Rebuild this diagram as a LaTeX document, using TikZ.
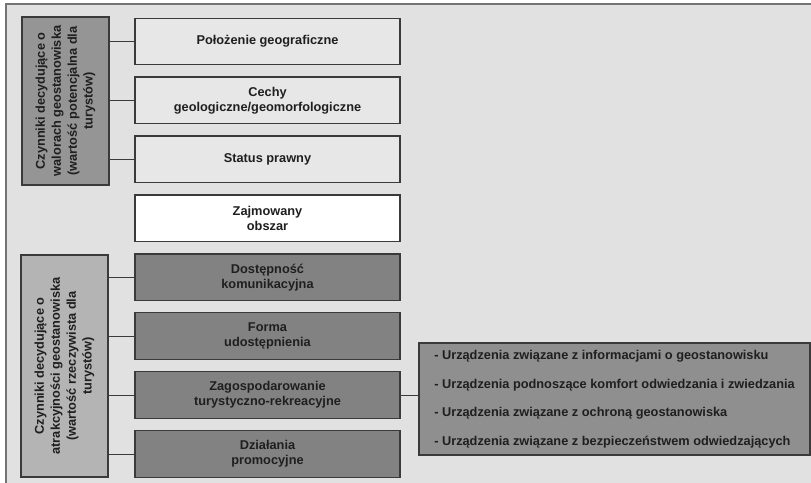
\documentclass[tikz,border=0pt]{standalone}
\usepackage{fontspec}
\setmainfont{Liberation Sans}
\usepackage{xcolor}
\usepackage{tikz}
\usetikzlibrary{calc}

\definecolor{panelbg}{HTML}{E1E1E1}
\definecolor{boxlight}{HTML}{E7E7E7}
\definecolor{boxdark}{HTML}{828282}
\definecolor{groupA}{HTML}{959595}
\definecolor{groupB}{HTML}{B4B4B4}
\definecolor{listbg}{HTML}{8F8F8F}
\definecolor{edge}{HTML}{3A3A3A}

\begin{document}
\begin{tikzpicture}
\def\dist{1.768cm}
\tikzset{node distance=\dist}
	\tikzset{every node/.style={font=\bfseries\fontsize{10.9}{12.8}\selectfont, text=black!88}}
	\tikzset{factor/.style={rectangle, draw=edge, line width=1.1pt, minimum width=7.95cm, minimum height=1.4cm, align=center}}
	\tikzset{potential/.style={factor, fill=boxlight}}
	\tikzset{area/.style={factor, fill=white}}
	\tikzset{real/.style={factor, fill=boxdark}}
	\tikzset{group/.style={rectangle, draw=edge, line width=1.1pt, rotate=90, minimum height=2.61cm, align=center, font=\bfseries\fontsize{10.9}{13.6}\selectfont}}
	\tikzset{link/.style={draw=edge, line width=0.9pt}}

\useasboundingbox (0,0) rectangle (24.33,-14.49);
\fill[panelbg] (0.18,-0.12) rectangle (24.33,-14.49);
\draw[black!55, line width=0.9pt] (0.18,-14.49) -- (0.18,-0.12) -- (24.33,-0.12);

\node[potential] (polozenie) at (8.025, -1.245) {Położenie geograficzne};
\node[potential, below of=polozenie] (cechy) {Cechy\\geologiczne/geomorfologiczne};
\node[potential, below of=cechy] (status) {Status prawny};
\node[area, below of=status] (obszar) {Zajmowany\\obszar};
\node[real, below of=obszar] (dostepnosc) {Dostępność\\komunikacyjna};
\node[real, below of=dostepnosc] (forma) {Forma\\udostępnienia};
\node[real, below of=forma] (zagosp) {Zagospodarowanie\\turystyczno-rekreacyjne};
\node[real, below of=zagosp] (dzialania) {Działania\\promocyjne};

\node[group, fill=groupA, minimum width=5.04cm] (walory) at (1.965, -3.03) {Czynniki decydujące o\\walorach geostanowiska\\(wartość potencjalna dla\\turystów)};
\node[group, fill=groupB, minimum width=6.66cm] (atrakcja) at (1.935, -10.98) {Czynniki decydujące o\\atrakcyjności geostanowiska\\(wartość rzeczywista dla\\turystów)};

\node[rectangle, draw=edge, line width=1.1pt, fill=listbg, minimum width=11.73cm, minimum height=3.36cm, align=left] (urzadzenia) at (18.435, -11.97) {- Urządzenia związane z informacjami o geostanowisku\\[11.5pt]- Urządzenia podnoszące komfort odwiedzania i zwiedzania\\[11.5pt]- Urządzenia związane z ochroną geostanowiska\\[11.5pt]- Urządzenia związane z bezpieczeństwem odwiedzających};

\draw[link] (polozenie.west -| walory.south) -- (polozenie.west);
\draw[link] (cechy.west -| walory.south) -- (cechy.west);
\draw[link] (status.west -| walory.south) -- (status.west);
\draw[link] (dostepnosc.west -| atrakcja.south) -- (dostepnosc.west);
\draw[link] (forma.west -| atrakcja.south) -- (forma.west);
\draw[link] (zagosp.west -| atrakcja.south) -- (zagosp.west);
\draw[link] (dzialania.west -| atrakcja.south) -- (dzialania.west);
\draw[link] (zagosp.east) -- (zagosp.east -| urzadzenia.west);
\end{tikzpicture}
\end{document}
